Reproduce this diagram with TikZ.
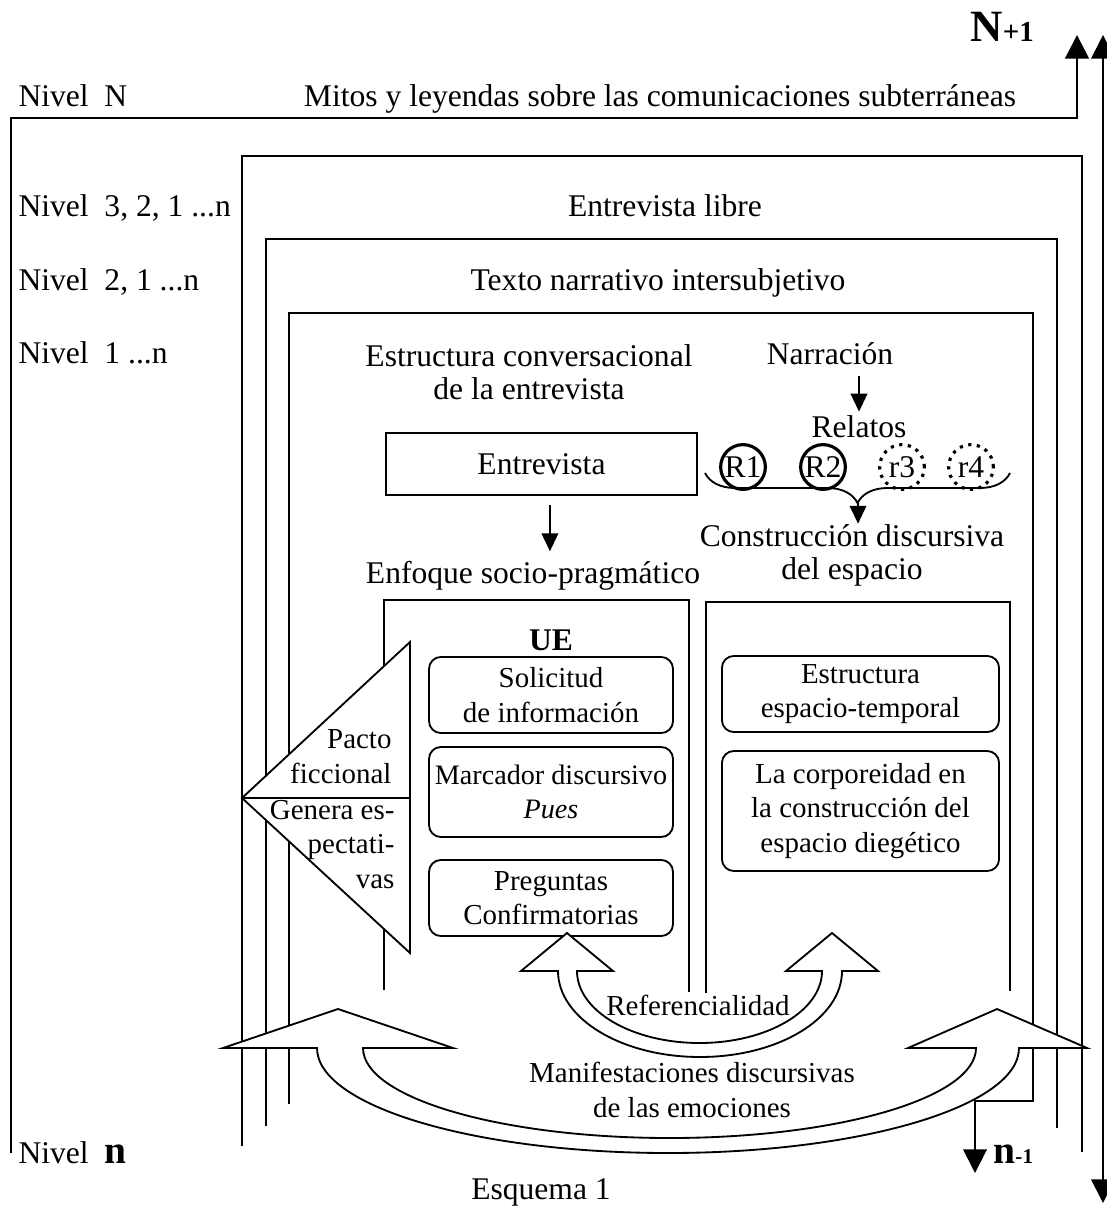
\documentclass[tikz,border=0pt]{standalone}
\usepackage{fontspec}
\setmainfont{Liberation Serif}
\usetikzlibrary{arrows.meta,decorations.pathreplacing}

\tikzset{
  lvl/.style={line width=.7pt},
  bigtip/.style={arrows={-Triangle[width=9pt,length=9pt]}},
  bigtips/.style={arrows={Triangle[width=9pt,length=9pt]-Triangle[width=9pt,length=9pt]}},
  smalltip/.style={line width=.7pt, arrows={-Triangle[width=6.3pt,length=6.8pt]}},
  txt/.style={inner sep=0pt, font=\fontsize{12}{12.5}\selectfont, align=center},
  boxtxt/.style={inner sep=0pt, font=\fontsize{11}{13}\selectfont, align=center},
  ubox/.style={draw, line width=.7pt, rounded corners=4.5pt, inner sep=0pt, align=center, font=\fontsize{11}{13}\selectfont},
  relato/.style={draw, circle, minimum size=17pt, inner sep=0pt, font=\fontsize{12}{12}\selectfont},
  relsolid/.style={line width=1.2pt},
  reldot/.style={line width=1.2pt, dash pattern=on 1.2pt off 2.1pt},
  blockarrow/.style={draw, fill=white, line width=.7pt, line join=miter},
}

\begin{document}
\begin{tikzpicture}[x=.38pt, y=-.38pt]
\useasboundingbox (0,0) rectangle (1106,1206);
% Levels
\draw[line width=1pt, bigtip] (11,1153) -- (11,118) -- (1077,118) -- (1077,35);
\draw[lvl, bigtips] (1103,35) -- (1103,1203);
\draw[lvl] (242,1146) -- (242,156) -- (1082,156) -- (1082,1152);
\draw[lvl] (266,1126) -- (266,239) -- (1057,239) -- (1057,1128);
\draw[lvl, bigtip] (289,1104) -- (289,313) -- (1033,313) -- (1033,1101) -- (975,1101) -- (975,1173);
% Inner boxes
\draw[lvl] (384,990) -- (384,600) -- (689,600) -- (689,992);
\draw[lvl] (706,993) -- (706,602) -- (1010,602) -- (1010,991);

% Level labels
\node[txt, anchor=base west] (nivN) at (18,107) {Nivel~~N};
\node[txt, anchor=base] (mitos) at (660,107) {Mitos y leyendas sobre las comunicaciones subterráneas};
\node[txt, anchor=base west] (niv3) at (18,217) {Nivel~~3, 2, 1 ...n};
\node[txt, anchor=base] (libre) at (665,217) {Entrevista libre};
\node[txt, anchor=base west] (niv2) at (18,291) {Nivel~~2, 1 ...n};
\node[txt, anchor=base] (texto) at (658,291) {Texto narrativo intersubjetivo};
\node[txt, anchor=base west] (niv1) at (18,364) {Nivel~~1 ...n};
\node[txt, anchor=base west] (nivn) at (18,1163) {Nivel~~{\fontsize{15}{15}\selectfont\bfseries n}};
\node[txt, anchor=base west] (nplus) at (970,42) {{\fontsize{17}{17}\selectfont\bfseries N}{\fontsize{11}{11}\selectfont\bfseries +1}};
\node[txt, anchor=base west] (nminus) at (993,1163) {{\fontsize{15}{15}\selectfont\bfseries n}{\fontsize{8}{8}\selectfont\bfseries -1}};

% Conversational structure
\node[txt] (estruc) at (529,372) {Estructura conversacional\\de la entrevista};
\node[txt, draw, lvl, minimum width=118.2pt, minimum height=23.6pt] (entrev) at (541.5,464) {Entrevista};
\node[txt, anchor=base] (enfoque) at (533,583) {Enfoque socio-pragmático};
\draw[smalltip] ([xshift=3.2pt, yshift=-3.4pt]entrev.south) -- ([xshift=3.2pt, yshift=3.4pt]entrev.south |- enfoque.north);

% Narration and stories
\node[txt, anchor=base] (narr) at (830,365) {Narración};
\node[txt, anchor=base] (relatos) at (859,438) {Relatos};
\draw[smalltip] ([yshift=-3.8pt]narr.south -| relatos.north) -- ([yshift=1.5pt]relatos.north);
\foreach \nm/\xc/\stl in {R1/743/relsolid, R2/823/relsolid, r3/902/reldot, r4/971/reldot}
  \node[relato, \stl] (\nm) at (\xc,467) {\nm};
\draw[lvl, decorate, decoration={brace, amplitude=11.4pt}] (1010,473) -- (705,473);
\coordinate (bracetip) at (858,503);
\node[txt] (constr) at (852,555) {Construcción discursiva\\del espacio};
\draw[smalltip] (bracetip) -- (bracetip |- constr.north);

% UE boxes
\node[txt, font=\fontsize{12}{12}\selectfont\bfseries, anchor=base] (ue) at (551,650) {UE};
\node[ubox, minimum width=92.7pt, minimum height=28.9pt] (solic) at (551,695) {Solicitud\\de información};
\node[ubox, minimum width=92.7pt, minimum height=34.2pt, font=\fontsize{10.7}{13}\selectfont] (marc) at (551,792) {Marcador discursivo\\\textit{Pues}};
\node[ubox, minimum width=92.7pt, minimum height=28.9pt] (pregu) at (551,898) {Preguntas\\Confirmatorias};
\node[ubox, minimum width=105.3pt, minimum height=28.9pt] (espt) at (860.5,694) {Estructura\\espacio-temporal};
\node[ubox, minimum width=105.3pt, minimum height=45.6pt] (corp) at (860.5,811) {La corporeidad en\\la construcción del\\espacio diegético};

% Fictional pact
\draw[blockarrow] (410,642) -- (242,798) -- (410,953) -- cycle;
\draw[lvl] (242,798) -- (410,798);
\node[boxtxt, align=right, anchor=south east] (pacto) at (392,784) {Pacto\\ficcional};
\node[boxtxt, align=right, anchor=north east] (genera) at (395,800) {Genera es-\\pectati-\\vas};

% Curved arrows
\draw[blockarrow] (567,933) -- (613,971) -- (577,971) arc[start angle=180, end angle=0, x radius=122.5, y radius=72]
  -- (786,971) -- (832,933) -- (878,971) -- (842,971) arc[start angle=0, end angle=180, x radius=142, y radius=86]
  -- (521,971) -- cycle;
\draw[blockarrow] (338,1009) -- (453,1048) -- (363,1048) arc[start angle=180, end angle=0, x radius=306.5, y radius=90]
  -- (908,1048) -- (997,1009) -- (1087,1048) -- (1019,1048) arc[start angle=0, end angle=180, x radius=351, y radius=105]
  -- (223,1048) -- cycle;
\node[boxtxt, anchor=base] (refer) at (698,1015) {Referencialidad};
\node[boxtxt] (manif) at (692,1090) {Manifestaciones discursivas\\de las emociones};

\node[txt, anchor=base] (esq) at (541,1199) {Esquema 1};
\end{tikzpicture}
\end{document}
